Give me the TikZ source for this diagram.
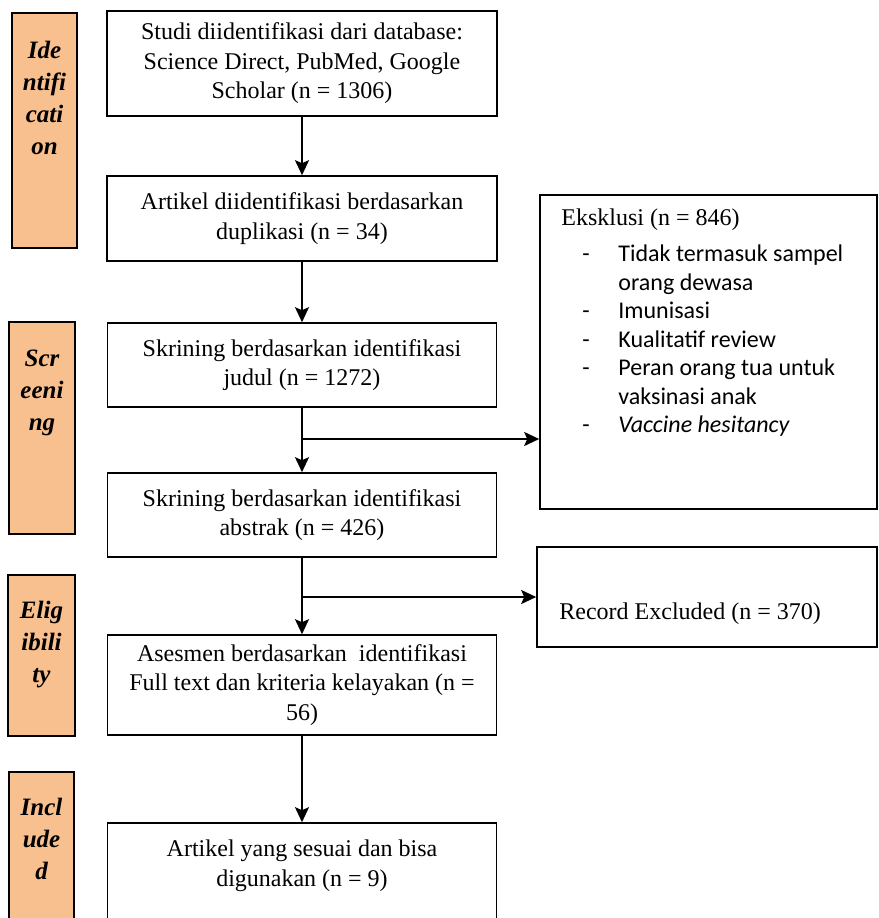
\documentclass[tikz,border=0pt]{standalone}
\usepackage{fontspec}
\setmainfont{Liberation Serif}
\newfontfamily\calibri{Carlito}
\usepackage{tikz}
\usetikzlibrary{arrows.meta, positioning}
\definecolor{peachStage}{RGB}{248,192,142}
\tikzset{
  pr/box/.style={rectangle, draw=black, fill=white, line width=1.6pt,
    align=center, font=\fontsize{24}{29.5}\selectfont, inner sep=2pt},
  pr/stage/.style={rectangle, draw=black, fill=peachStage, line width=1.6pt},
  pr/stagetxt/.style={align=center, inner sep=0pt,
    font=\fontsize{25}{32}\selectfont\bfseries\itshape},
  pr/txt/.style={inner sep=0pt, font=\fontsize{24}{28.5}\selectfont},
  pr/arr/.style={-{Stealth[length=15pt,width=14pt,inset=3pt]},
    line width=2pt, draw=black}
}

\begin{document}
\begin{tikzpicture}[x=1pt, y=-1pt]
  \useasboundingbox (0,0) rectangle (878,918);
  % tahapan di sisi kiri
  \node[pr/stage, minimum width=65pt, minimum height=235pt] (sId)   at (44.5,130.5) {};
  \node[pr/stage, minimum width=66pt, minimum height=212pt] (sScr)  at (42,428) {};
  \node[pr/stage, minimum width=67pt, minimum height=161pt] (sElig) at (41.5,655.5) {};
  \node[pr/stage, minimum width=65pt, minimum height=158pt] (sIncl) at (41.5,851) {};
  \node[pr/stagetxt, anchor=north] (tId)   at ([yshift=-29pt]sId.north)   {Ide\\ntifi\\cati\\on};
  \node[pr/stagetxt, anchor=north] (tScr)  at ([yshift=-29pt]sScr.north)  {Scr\\eeni\\ng};
  \node[pr/stagetxt, anchor=north] (tElig) at ([yshift=-27pt]sElig.north) {Elig\\ibili\\ty};
  \node[pr/stagetxt, anchor=north] (tIncl) at ([yshift=-27pt]sIncl.north) {Incl\\ude\\d};

  % alur utama
  \node[pr/box, minimum width=390pt, minimum height=105pt] (b1) at (302,63.5)
        {Studi diidentifikasi dari database:\\Science Direct, PubMed, Google\\Scholar (n = 1306)};
  \node[pr/box, minimum width=390pt, minimum height=85pt] (b2) at (302,218.5)
        {Artikel diidentifikasi berdasarkan\\duplikasi (n = 34)};
  \node[pr/box, minimum width=389pt, minimum height=84pt] (b3) at (302,365)
        {Skrining berdasarkan identifikasi\\judul (n = 1272)};
  \node[pr/box, minimum width=389pt, minimum height=84pt] (b4) at (302,515)
        {Skrining berdasarkan identifikasi\\abstrak (n = 426)};
  \node[pr/box, minimum width=389pt, minimum height=100pt] (b5) at (302,685)
        {Asesmen berdasarkan\ \ identifikasi\\Full text dan kriteria kelayakan (n =\\56)};
  \node[pr/box, minimum width=389pt, minimum height=110pt] (b6) at (302,878)
        {Artikel yang sesuai dan bisa\\digunakan (n = 9)\\\mbox{}};

  % kotak eksklusi
  \node[pr/box, minimum width=337pt, minimum height=314pt] (eks) at (708.5,352) {};
  \node[pr/txt, anchor=north west, align=left] (eksTxt)
        at ([xshift=22pt, yshift=-14pt]eks.north west)
        {Eksklusi (n = 846)\\[8pt]
         {\calibri\hspace*{21pt}\makebox[36pt][l]{-}Tidak termasuk sampel}\\
         {\calibri\hspace*{57pt}orang dewasa}\\
         {\calibri\hspace*{21pt}\makebox[36pt][l]{-}Imunisasi}\\
         {\calibri\hspace*{21pt}\makebox[36pt][l]{-}Kualitatif review}\\
         {\calibri\hspace*{21pt}\makebox[36pt][l]{-}Peran orang tua untuk}\\
         {\calibri\hspace*{57pt}vaksinasi anak}\\
         {\calibri\hspace*{21pt}\makebox[36pt][l]{-}\itshape Vaccine hesitancy}};
  \node[pr/box, minimum width=340pt, minimum height=100pt] (rec) at (707,597) {};
  \node[pr/txt, anchor=west] (recTxt) at ([xshift=23pt, yshift=-17pt]rec.west)
        {Record Excluded (n = 370)};

  \coordinate (j1) at (302,439);
  \coordinate (j2) at (302,597);

  \draw[pr/arr] (b1) -- (b2);
  \draw[pr/arr] (b2) -- (b3);
  \draw[pr/arr] (b3) -- (b4);
  \draw[pr/arr] (j1) -- (j1 -| eks.west);
  \draw[pr/arr] (b4) -- (b5);
  \draw[pr/arr] (j2) -- (rec.west);
  \draw[pr/arr] (b5) -- (b6);
\end{tikzpicture}
\end{document}
